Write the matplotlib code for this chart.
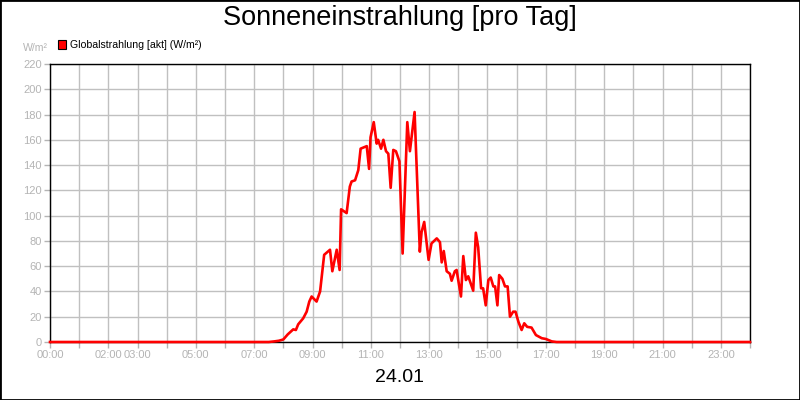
import matplotlib
matplotlib.use("Agg")
import matplotlib.pyplot as plt
from matplotlib.patches import Rectangle

plt.rcParams['font.family'] = ['Liberation Sans', 'DejaVu Sans']

# time of day in hours, values in W/m²
hours = [0.0, 7.5, 7.7, 7.85, 8.0, 8.15, 8.34, 8.43, 8.51, 8.68, 8.8, 8.89, 8.97,
         9.14, 9.26, 9.4, 9.6, 9.68, 9.83, 9.93, 9.98, 10.17, 10.28, 10.34,
         10.46, 10.57, 10.65, 10.86, 10.94, 10.99, 11.1, 11.2, 11.25, 11.35,
         11.43, 11.52, 11.6, 11.68, 11.77, 11.86, 11.98, 12.09, 12.25, 12.34,
         12.5, 12.68, 12.74, 12.83, 12.98, 13.08, 13.26, 13.37, 13.43, 13.5,
         13.6, 13.71, 13.77, 13.88, 13.94, 14.09, 14.17, 14.26, 14.34, 14.51,
         14.6, 14.68, 14.78, 14.85, 14.94, 15.03, 15.11, 15.2, 15.26, 15.34,
         15.4, 15.51, 15.6, 15.69, 15.77, 15.88, 15.96, 16.06, 16.17, 16.26,
         16.36, 16.51, 16.66, 16.86, 17.0, 17.2, 17.37, 24.0]
values = [0, 0, 0.5, 1, 2, 6, 10, 9.5, 14, 18.7, 24, 32, 36,
          32, 40, 69, 73, 56, 73, 57, 105, 102, 123, 127,
          128, 136, 153, 155, 137, 162, 174, 157, 160, 153,
          160, 151, 149, 122, 152, 151, 143, 70, 174, 151,
          182, 71.5, 87, 95, 65, 78, 82, 79, 63, 72,
          56, 54, 48.5, 56, 57, 36, 68, 49, 52, 40.6,
          86.5, 75, 42.5, 42.5, 29, 49, 51, 44, 44, 29,
          53, 50, 44, 44, 20, 24, 24, 16, 9.5, 14.8,
          12, 11.4, 5.5, 3, 2.4, 0.5, 0, 0]

x_tick_hours = list(range(0, 25))
x_label_hours = [0, 2, 3, 5, 7, 9, 11, 13, 15, 17, 19, 21, 23]
y_ticks = list(range(0, 221, 20))

title = "Sonneneinstrahlung [pro Tag]"
date_label = "24.01"
legend_label = "Globalstrahlung [akt] (W/m²)"
unit_label = "W/m²"

grey = "#b4b4b4"
fig = plt.figure(figsize=(8, 4), dpi=100)
ax = fig.add_axes([50/800, 1-342/400, 700/800, 278/400])

ax.plot(hours, values, color="#ff0000", lw=1.9, solid_joinstyle='round', zorder=3, clip_on=False)

ax.set_xlim(0, 24)
ax.set_ylim(0, 220)
ax.set_xticks(x_tick_hours)
ax.set_xticklabels([f"{h:02d}:00" if h in x_label_hours else "" for h in x_tick_hours])
ax.set_yticks(y_ticks)
ax.set_yticklabels([str(v) for v in y_ticks])
ax.grid(True, color="#c0c0c0", lw=1)
ax.set_axisbelow(True)
ax.tick_params(axis='both', colors=grey, labelcolor=grey, labelsize=8, length=4, width=1, pad=2)
for s in ax.spines.values():
    s.set_color("black")
    s.set_linewidth(1)

fig.text(0.5, 1-18/400, title, ha='center', va='center', fontsize=19.5, color='black')
fig.text(0.5, 1-377/400, date_label, ha='center', va='center', fontsize=14, color='black')
fig.patches.append(Rectangle((58/800, 1-48.5/400), 8/800, 8/400, transform=fig.transFigure,
                             facecolor='#ff0000', edgecolor='black', lw=0.8))
fig.text(70/800, 1-44.5/400, legend_label, ha='left', va='center', fontsize=7.6, color='black')
fig.text(48/800, 1-48/400, unit_label, ha='right', va='center', fontsize=7.6, color=grey)
fig.patches.append(Rectangle((0, 0), 1, 1, transform=fig.transFigure, fill=False,
                             edgecolor='black', lw=2))

fig.savefig("out.png", dpi=100)
